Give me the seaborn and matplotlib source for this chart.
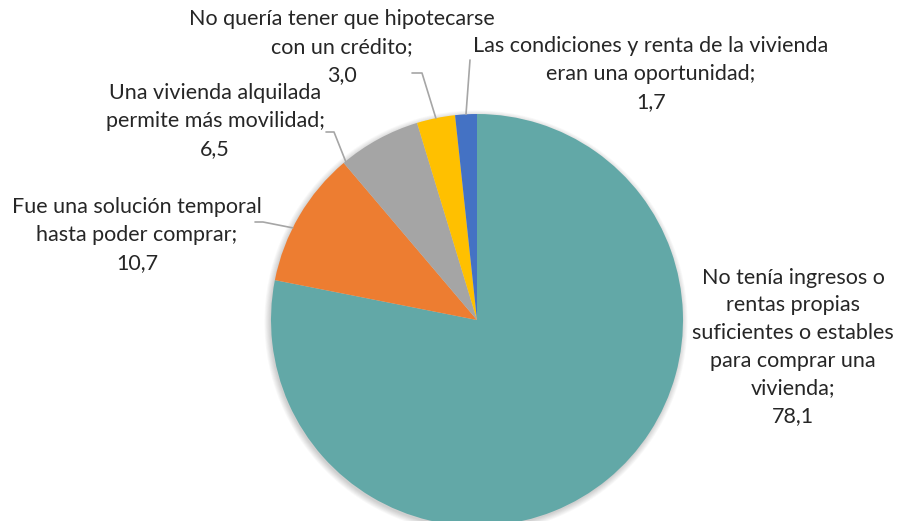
import numpy as np
import matplotlib.pyplot as plt
import matplotlib.patches as mpatches
import seaborn as sns

sns.set_theme(style="white")
plt.rcParams["font.family"] = ["Lato", "DejaVu Sans"]

labels = ["No tenía ingresos o\nrentas propias\nsuficientes o estables\npara comprar una\nvivienda;",
          "Fue una solución temporal\nhasta poder comprar;",
          "Una vivienda alquilada\npermite más movilidad;",
          "No quería tener que hipotecarse\ncon un crédito;",
          "Las condiciones y renta de la vivienda\neran una oportunidad;"]
values = [78.1, 10.7, 6.5, 3.0, 1.7]
colors = sns.color_palette(["#62A8A7", "#ED7D31", "#A5A5A5", "#FFC000", "#4472C4"])

W, H = 898, 521
cx, cy, R = 477, 320, 206   # pixel coords, y from top

# label layout: text centre (x, y from top), leader path start points, where on the wedge the line lands
text_pos = [(793, 347), (137, 235), (215, 121), (342, 47), (651, 74)]
leader_pts = [None, [(255, 222), (263, 222)], [(326, 132), (334, 132)],
              [(412, 73), (422, 73)], [(470, 60)]]
leader_frac = [None, 0.6, 0.97, 0.5, 0.5]


def up(p):
    return (p[0], H - p[1])


fig = plt.figure(figsize=(W / 100, H / 100), dpi=100)
ax = fig.add_axes([0, 0, 1, 1])

# soft shadow behind the pie
for i in range(8):
    ax.add_patch(mpatches.Circle(up((cx - 1, cy + 2)), R + i * 0.8, color="black",
                                 alpha=0.025, lw=0, zorder=0))

wedges, _ = ax.pie(values, colors=colors, startangle=90, counterclock=False,
                   center=up((cx, cy)), radius=R, frame=True,
                   wedgeprops=dict(linewidth=0, zorder=1))
ax.set_xlim(0, W)
ax.set_ylim(0, H)
ax.set_aspect("equal")
ax.axis("off")

for i, (lab, val) in enumerate(zip(labels, values)):
    tx, ty = up(text_pos[i])
    ax.text(tx, ty, f"{lab}\n{val:.1f}".replace(".", ","), ha="center", va="center",
            fontsize=15.5, color="#262626", linespacing=1.48, zorder=3)
    if leader_pts[i] is None:
        continue
    w = wedges[i]
    ang = np.deg2rad(w.theta1 + leader_frac[i] * (w.theta2 - w.theta1))
    ex, ey = up((cx, cy))
    edge = (ex + R * np.cos(ang), ey + R * np.sin(ang))
    pts = [up(p) for p in leader_pts[i]] + [edge]
    xs, ys = zip(*pts)
    ax.plot(xs, ys, color="#A6A6A6", lw=1.2, zorder=2)

fig.savefig("out.png", dpi=100, facecolor="white")
